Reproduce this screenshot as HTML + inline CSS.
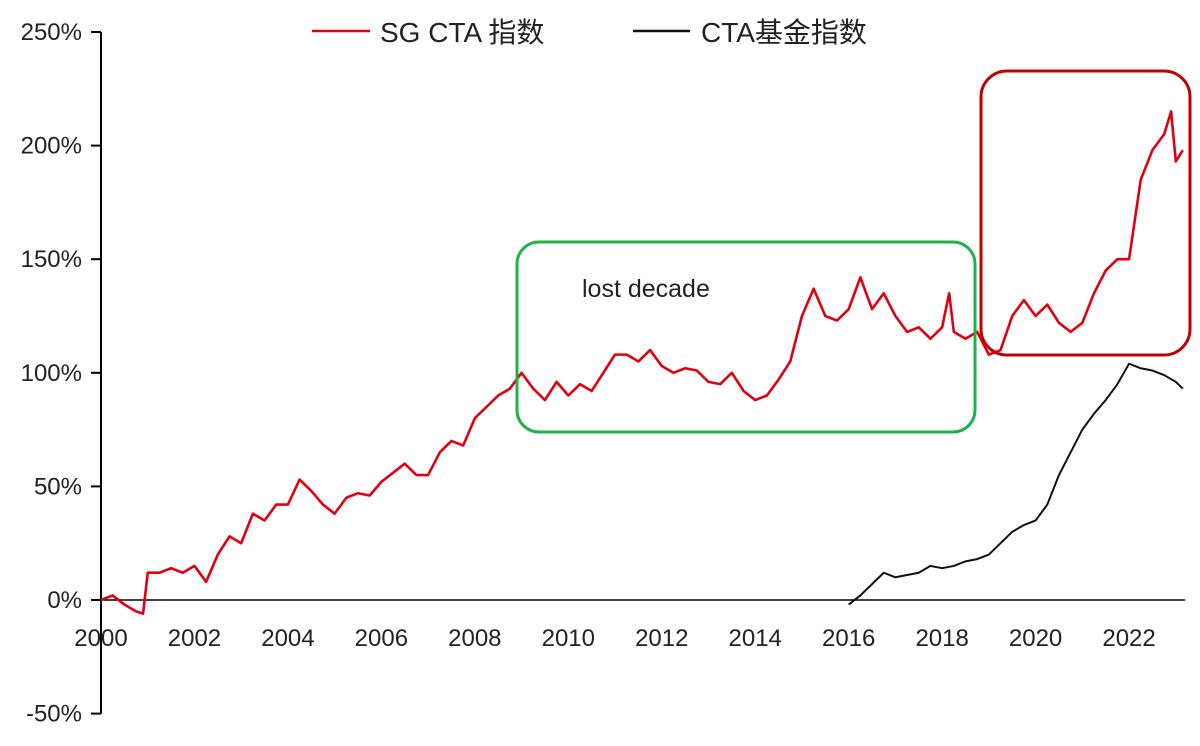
<!DOCTYPE html>
<html><head><meta charset="utf-8"><style>
html,body{margin:0;padding:0;background:#fff;}
svg text{font-family:"Liberation Sans","Noto Sans CJK SC",sans-serif;fill:#222;}
</style></head><body>
<svg id="chart" width="1200" height="741" viewBox="0 0 1200 741">
<g id="axes"></g>
<g id="series"></g>
<rect x="517" y="242" width="458" height="190" rx="22" fill="none" stroke="#1db34a" stroke-width="3"/>
<text x="582" y="297" font-size="25">lost decade</text>
<rect x="981" y="71" width="209" height="284" rx="26" fill="none" stroke="#c00000" stroke-width="3"/>
<g>
<line x1="312" y1="31" x2="370" y2="31" stroke="#e00010" stroke-width="2.5"/>
<text x="380" y="42" font-size="28">SG CTA 指数</text>
<line x1="633" y1="31" x2="690" y2="31" stroke="#111" stroke-width="2.5"/>
<text x="701" y="42" font-size="28">CTA基金指数</text>
</g>
</svg>
<script>
const yTicks=[-50,0,50,100,150,200,250];
const xTicks=[2000,2002,2004,2006,2008,2010,2012,2014,2016,2018,2020,2022];
const sgDates=[2000,2000.25,2000.5,2000.75,2000.9,2001,2001.25,2001.5,2001.75,2002,2002.25,2002.5,2002.75,2003,2003.25,2003.5,2003.75,2004,2004.25,2004.5,2004.75,2005,2005.25,2005.5,2005.75,2006,2006.25,2006.5,2006.75,2007,2007.25,2007.5,2007.75,2008,2008.25,2008.5,2008.75,2009,2009.25,2009.5,2009.75,2010,2010.25,2010.5,2010.75,2011,2011.25,2011.5,2011.75,2012,2012.25,2012.5,2012.75,2013,2013.25,2013.5,2013.75,2014,2014.25,2014.5,2014.75,2015,2015.25,2015.5,2015.75,2016,2016.25,2016.5,2016.75,2017,2017.25,2017.5,2017.75,2018,2018.15,2018.25,2018.5,2018.75,2019,2019.25,2019.5,2019.75,2020,2020.25,2020.5,2020.75,2021,2021.25,2021.5,2021.75,2022,2022.25,2022.5,2022.75,2022.9,2023,2023.15];
const sgValues=[0,2,-2,-5,-6,12,12,14,12,15,8,20,28,25,38,35,42,42,53,48,42,38,45,47,46,52,56,60,55,55,65,70,68,80,85,90,93,100,93,88,96,90,95,92,100,108,108,105,110,103,100,102,101,96,95,100,92,88,90,97,105,125,137,125,123,128,142,128,135,125,118,120,115,120,135,118,115,118,108,110,125,132,125,130,122,118,122,135,145,150,150,185,198,205,215,193,198];
const fundDates=[2016,2016.25,2016.5,2016.75,2017,2017.25,2017.5,2017.75,2018,2018.25,2018.5,2018.75,2019,2019.25,2019.5,2019.75,2020,2020.25,2020.5,2020.75,2021,2021.25,2021.5,2021.75,2022,2022.25,2022.5,2022.75,2023,2023.15];
const fundValues=[-2,2,7,12,10,11,12,15,14,15,17,18,20,25,30,33,35,42,55,65,75,82,88,95,104,102,101,99,96,93];
const X=yr=>101+(yr-2000)*46.73;
const Y=v=>600-v*2.272;
const NS='http://www.w3.org/2000/svg';
const axes=document.getElementById('axes');
function mk(tag,attrs,parent){const e=document.createElementNS(NS,tag);for(const k in attrs)e.setAttribute(k,attrs[k]);parent.appendChild(e);return e;}
const ya=mk('line',{x1:101,y1:Y(250),x2:101,y2:Y(-50),stroke:'#000','stroke-width':2},axes);


const xa=mk('line',{x1:101,y1:Y(0),x2:X(2023.2),y2:Y(0),stroke:'#000','stroke-width':1.5},axes);


yTicks.forEach(v=>{
 const t=mk('line',{x1:91,y1:Y(v),x2:101,y2:Y(v),stroke:'#000','stroke-width':2},axes);
 
 
 const l=mk('text',{x:82,y:Y(v)+8,'font-size':24,'text-anchor':'end'},axes);
 l.textContent=v+'%';
 
 
});
xTicks.forEach(yr=>{
 const l=mk('text',{x:X(yr),y:646,'font-size':24,'text-anchor':'middle'},axes);
 l.textContent=yr;
 
 
});
const ser=document.getElementById('series');
const p1=mk('polyline',{points:sgDates.map((d,i)=>X(d)+','+Y(sgValues[i])).join(' '),fill:'none',stroke:'#e00010','stroke-width':2.6,'stroke-linejoin':'round'},ser);


const p2=mk('polyline',{points:fundDates.map((d,i)=>X(d)+','+Y(fundValues[i])).join(' '),fill:'none',stroke:'#111','stroke-width':2,'stroke-linejoin':'round'},ser);


</script>
</body></html>
